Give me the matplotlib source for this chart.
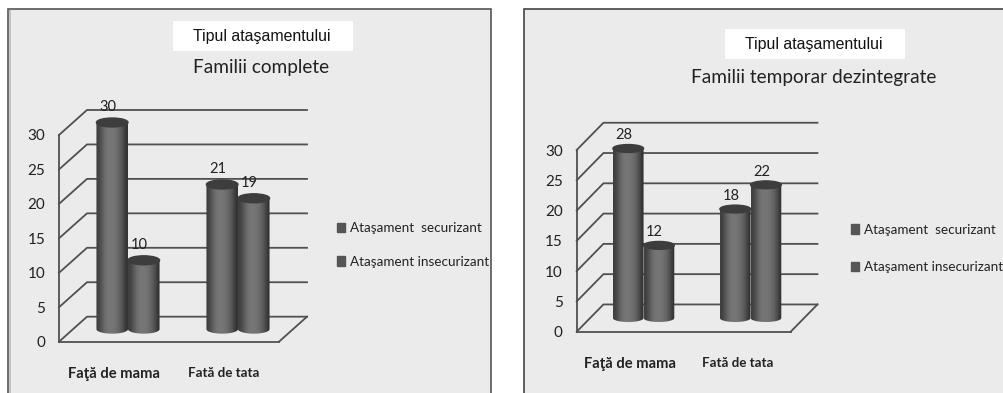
"""Tipul atasamentului: doua grafice cu cilindri, familii complete si temporar dezintegrate."""
import numpy as np
import matplotlib
matplotlib.use('Agg')
import matplotlib.pyplot as plt
from matplotlib.patches import Ellipse, Patch, Polygon, Rectangle

CATEGORIES = ['Faţă de mama', 'Fată de tata']
SERIES = ['Ataşament  securizant', 'Ataşament insecurizant']
Y_TICKS = [0, 5, 10, 15, 20, 25, 30]
BOX_LABEL = 'Tipul ataşamentului'

TITLE_LEFT = 'Familii complete'
SECURE_LEFT = [30, 21]
INSECURE_LEFT = [10, 19]

TITLE_RIGHT = 'Familii temporar dezintegrate'
SECURE_RIGHT = [28, 18]
INSECURE_RIGHT = [12, 22]

WIDTH, HEIGHT = 1004, 393
TEXT = '#222222'
LINE = '#505050'
PANEL = '#ebebeb'
FONT = ['Lato', 'DejaVu Sans']


def axes_at(fig, left, top, right, bottom):
    """Axes colocados con coordenadas en pixeles de la figura."""
    return fig.add_axes([left / WIDTH, 1 - bottom / HEIGHT,
                         (right - left) / WIDTH, (bottom - top) / HEIGHT])


def cylinder(ax, x, value, width, base, cap):
    """Dibuja un cilindro con degradado horizontal desde base hasta base + value."""
    half = width / 2
    top = base + value
    t = np.linspace(0, np.pi, 40)
    lower = np.column_stack([x - half * np.cos(t), base - cap / 2 * np.sin(t)])
    outline = np.vstack([lower, [[x + half, top], [x - half, top]]])
    shade = np.array([0.25, 0.33, 0.42, 0.46, 0.46, 0.44, 0.39, 0.31, 0.21])
    image = ax.imshow(shade[np.newaxis, :], cmap='gray', vmin=0, vmax=1, aspect='auto',
                      extent=(x - half, x + half, base - cap, top), interpolation='bilinear',
                      zorder=3)
    image.set_clip_box(ax.figure.bbox)
    image.set_clip_path(Polygon(outline, closed=True, transform=ax.transData))
    ax.add_patch(Ellipse((x, top), width, cap, color='#3d3d3d', zorder=4, clip_on=False))


def plot_panel(fig, frame, secure, insecure, depth, legend_at, legend_gap):
    """Un grafico: pared y suelo con perspectiva, cilindros, etiquetas y leyenda."""
    ax = axes_at(fig, *frame)
    ax.patch.set_visible(False)
    dx, dy = depth
    x_min, x_max = -0.5, 1.5

    # pared del fondo y suelo
    for tick in Y_TICKS:
        ax.plot([x_min, x_min + dx, x_max + dx], [tick, tick + dy, tick + dy],
                color=LINE, lw=1.3, clip_on=False, zorder=1)
    ax.plot([x_max, x_max + dx], [0, dy], color=LINE, lw=1.3, clip_on=False, zorder=1)

    bar_width = 0.287
    base = dy / 2
    for i in range(len(CATEGORIES)):
        center = i + dx / 2
        for offset, value in ((-bar_width / 2, secure[i]), (bar_width / 2, insecure[i])):
            cylinder(ax, center + offset, value, bar_width, base, 1.3)
            ax.text(center + offset - 0.04, value + base + 2.2, str(value), ha='center',
                    va='center', fontsize=10.5, color=TEXT, family=FONT, zorder=5)

    ax.set_xlim(x_min, x_max)
    ax.set_ylim(0, 30)
    ax.set_xticks(range(len(CATEGORIES)), CATEGORIES)
    ax.set_yticks(Y_TICKS)
    ax.tick_params(length=0, colors=TEXT)
    ax.tick_params(axis='y', pad=10, labelsize=11)
    ax.tick_params(axis='x', pad=18.5)
    for label in ax.get_yticklabels():
        label.set_family(FONT)
    first, second = ax.get_xticklabels()
    first.set(family=FONT, fontsize=10.6, fontweight='bold')
    second.set(family=FONT, fontsize=9.6, fontweight='bold')
    ax.spines[['top', 'right']].set_visible(False)
    ax.spines[['left', 'bottom']].set_color(LINE)
    ax.spines[['left', 'bottom']].set_linewidth(1.3)

    handles = [Patch(color='#555555', label=name) for name in SERIES]
    ax.legend(handles=handles, loc='center left', frameon=False,
              bbox_to_anchor=legend_at, bbox_transform=fig.transFigure,
              handlelength=0.6, handleheight=0.7, handletextpad=0.35,
              labelspacing=legend_gap, borderpad=0, borderaxespad=0, labelcolor=TEXT,
              prop={'family': FONT, 'size': 9.7})


fig = plt.figure(figsize=(WIDTH / 100, HEIGHT / 100), dpi=100, facecolor='white')

# fondo: marcos, cuadros blancos y titulos, en pixeles
back = fig.add_axes([0, 0, 1, 1])
back.set_xlim(0, WIDTH)
back.set_ylim(HEIGHT, 0)
back.axis('off')

back.add_patch(Rectangle((8, 9), 483.5, 400, facecolor=PANEL, edgecolor='#555555', lw=1.2))
back.add_patch(Rectangle((9, 10), 2.5, 400, facecolor='#c4c4c4', edgecolor='none'))
back.add_patch(Rectangle((524, 9), 500, 400, facecolor=PANEL, edgecolor='#444444', lw=1.2))

for left, top, title, title_x, title_y in ((173, 21, TITLE_LEFT, 260.7, 68),
                                           (725, 29, TITLE_RIGHT, 814, 77)):
    back.add_patch(Rectangle((left, top), 180, 30, facecolor='white', edgecolor='none'))
    back.text(left + 89, top + 15, BOX_LABEL, ha='center', va='center', fontsize=11.4,
              color='#111111', family='Liberation Sans')
    back.text(title_x, title_y, title, ha='center', va='center', fontsize=13.7,
              color=TEXT, family=FONT)

plot_panel(fig, (59, 135, 279, 341.7), SECURE_LEFT, INSECURE_LEFT, (0.2545, 3.63),
           (337 / WIDTH, 1 - 245 / HEIGHT), 1.6)
plot_panel(fig, (576.7, 150, 790.7, 331.7), SECURE_RIGHT, INSECURE_RIGHT, (0.25, 4.5),
           (851 / WIDTH, 1 - 248.5 / HEIGHT), 1.9)

fig.savefig('out.png', dpi=100)
